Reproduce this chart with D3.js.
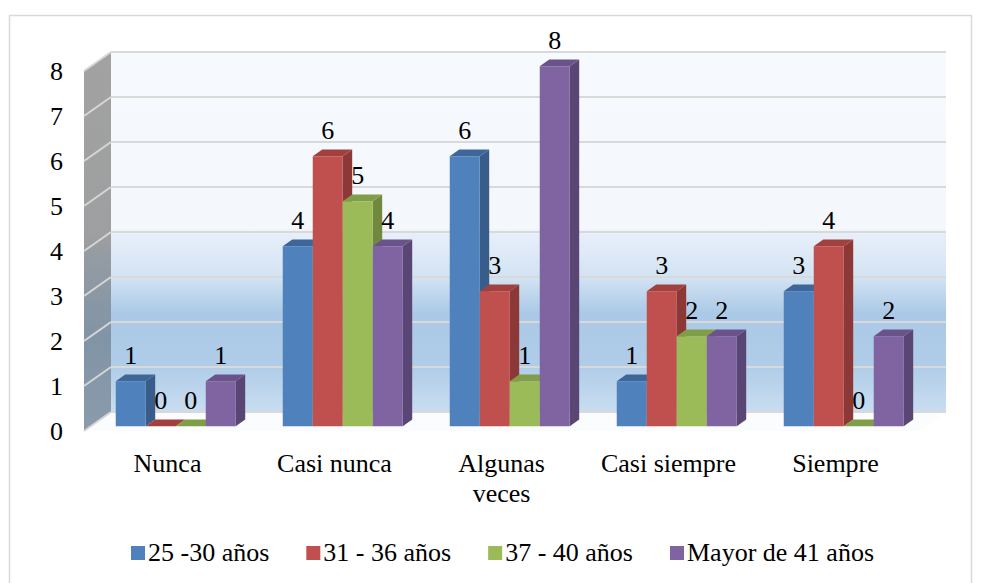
<!DOCTYPE html>
<html>
<head>
<meta charset="utf-8">
<script src="https://cdn.jsdelivr.net/npm/d3@7"></script>
</head>
<body style="margin:0;padding:0;background:#ffffff">
<svg id="chart" width="985" height="583" font-family="Liberation Serif" style="display:block;font-family:Liberation Serif"></svg>
<script>
// Respuestas por categoría y grupo de edad
const categories = ["Nunca", "Casi nunca", "Algunas veces", "Casi siempre", "Siempre"];
const seriesNames = ["25 -30 años", "31 - 36 años", "37 - 40 años", "Mayor de 41 años"];
const edad25a30 = [1, 4, 6, 1, 3];
const edad31a36 = [0, 6, 3, 3, 4];
const edad37a40 = [0, 5, 1, 2, 0];
const mayor41 = [1, 4, 8, 2, 2];
const yTicks = [0, 1, 2, 3, 4, 5, 6, 7, 8];

const seriesValues = [edad25a30, edad31a36, edad37a40, mayor41];

// Colores: cara frontal, lateral y superior de cada serie
const palette = [
  { front: "#4f81bd", side: "#385d8a", top: "#3e6698" },
  { front: "#c0504d", side: "#8c3836", top: "#a2403d" },
  { front: "#9bbb59", side: "#71893f", top: "#809e47" },
  { front: "#8064a2", side: "#5a4675", top: "#6a528a" }
];

const svg = d3.select("#chart");
const styleText = sel => sel
  .attr("font-family", "Liberation Serif").attr("font-size", 26).attr("fill", "#000")
  .style("font-family", "Liberation Serif").style("font-size", "26px");

// Proyección oblicua: plano frontal del piso y desplazamiento de profundidad
const floorY = 431;
const depthDX = 27, depthDY = -19;
const frontLeft = 84, frontRight = 919;

const x = d3.scaleBand().domain(categories).range([frontLeft, frontRight]);
const inner = d3.scaleBand().domain(seriesNames).range([0, 120]);
const h = d3.scaleLinear().domain([0, 8]).range([0, 360]);

// punto (px en plano frontal, valor, fracción de profundidad)
const P = (px, v, f) => [px + f * depthDX, floorY + f * depthDY - h(v)];

const defs = svg.append("defs");
const wallGrad = defs.append("linearGradient").attr("id", "wallGrad")
  .attr("x1", 0).attr("y1", 0).attr("x2", 0).attr("y2", 1);
[[0, "#f6f9fd"], [0.49, "#f4f8fc"], [0.505, "#e7eff9"], [0.625, "#d3e3f3"],
 [0.725, "#abc9e6"], [0.87, "#afcce8"], [1, "#c9ddf0"]]
  .forEach(([o, c]) => wallGrad.append("stop").attr("offset", o).attr("stop-color", c));

const sideGrad = defs.append("linearGradient").attr("id", "sideGrad")
  .attr("x1", 0).attr("y1", 0).attr("x2", 0).attr("y2", 1);
[[0, "#a2a2a2"], [0.48, "#9e9fa0"], [0.55, "#939ba3"], [0.75, "#8194a6"], [1, "#8a9bab"]]
  .forEach(([o, c]) => sideGrad.append("stop").attr("offset", o).attr("stop-color", c));

// Marco exterior
svg.append("rect").attr("x", 9.5).attr("y", 15.5).attr("width", 962).attr("height", 600)
  .attr("fill", "#fff").attr("stroke", "#d9d9d9").attr("stroke-width", 1.5);

const poly = pts => "M" + pts.map(p => p.join(",")).join("L") + "Z";

// Pared del fondo
const back0 = P(frontLeft, 0, 1), back8 = P(frontRight, 8, 1);
svg.append("rect")
  .attr("x", back0[0]).attr("y", back8[1])
  .attr("width", back8[0] - back0[0]).attr("height", back0[1] - back8[1])
  .attr("fill", "url(#wallGrad)");

// Pared lateral
svg.append("path")
  .attr("d", poly([P(frontLeft, 0, 0), P(frontLeft, 8, 0), P(frontLeft, 8, 1), P(frontLeft, 0, 1)]))
  .attr("fill", "url(#sideGrad)");

// Piso
svg.append("path")
  .attr("d", poly([P(frontLeft, 0, 0), P(frontRight, 0, 0), P(frontRight, 0, 1), P(frontLeft, 0, 1)]))
  .attr("fill", "#fbfcfd");

// Líneas de división
const grid = svg.append("g");
yTicks.forEach(v => {
  const a = P(frontLeft, v, 0), b = P(frontLeft, v, 1), c = P(frontRight, v, 1);
  grid.append("path").attr("d", `M${a}L${b}`).attr("stroke", "#d6d6d6")
    .attr("stroke-width", 2).attr("fill", "none");
  grid.append("path").attr("d", `M${b}L${c}`).attr("stroke", "#d9d9d9")
    .attr("stroke-width", 2).attr("fill", "none");
});

// Barras 3D
const f1 = 0.25, f2 = 0.6;
const bars = svg.append("g");
const labels = svg.append("g");
categories.forEach((cat, ci) => {
  seriesNames.forEach((s, si) => {
    const v = seriesValues[si][ci];
    const col = palette[si];
    const x0 = x(cat) + 25 + inner(s);
    const x1 = x0 + inner.bandwidth();
    const g = bars.append("g");
    // lateral
    g.append("path").attr("d", poly([P(x1, 0, f1), P(x1, v, f1), P(x1, v, f2), P(x1, 0, f2)]))
      .attr("fill", col.side);
    // superior
    g.append("path").attr("d", poly([P(x0, v, f1), P(x1, v, f1), P(x1, v, f2), P(x0, v, f2)]))
      .attr("fill", col.top);
    // frontal
    const fl = P(x0, v, f1), fb = P(x1, 0, f1);
    if (v > 0) {
      g.append("rect").attr("x", fl[0]).attr("y", fl[1])
        .attr("width", fb[0] - fl[0]).attr("height", fb[1] - fl[1])
        .attr("fill", col.front);
    }
    labels.append("text")
      .attr("x", (fl[0] + fb[0]) / 2)
      .attr("y", fl[1] - 17)
      .attr("text-anchor", "middle")
      .call(styleText)
      .text(v);
  });
});

// Eje vertical
const yFront = d3.scaleLinear().domain([0, 8]).range([floorY, floorY - h(8)]);
const yAxis = svg.append("g").attr("transform", "translate(63,0)")
  .call(d3.axisLeft(yFront).tickValues(yTicks).tickSize(0).tickPadding(0).tickFormat(d3.format("d")));
yAxis.attr("font-family", "Liberation Serif").attr("font-size", 26);
yAxis.select(".domain").remove();
yAxis.selectAll("text").call(styleText);

// Eje de categorías
const xAxis = svg.append("g").attr("transform", "translate(0,453.5)")
  .call(d3.axisBottom(x).tickSize(0).tickPadding(0));
xAxis.attr("font-family", "Liberation Serif").attr("font-size", 26);
xAxis.select(".domain").remove();
xAxis.selectAll("text").call(styleText)
  .each(function (d) {
    const t = d3.select(this);
    if (this.getComputedTextLength() > x.bandwidth() - 20) {
      const words = d.split(" ");
      t.text(null);
      words.forEach((w, i) => {
        t.append("tspan").attr("x", 0).attr("dy", i === 0 ? "0.71em" : "1.15em").text(w);
      });
    }
  });

// Leyenda
const legend = svg.append("g");
let lx = 131;
seriesNames.forEach((s, si) => {
  legend.append("rect").attr("x", lx).attr("y", 546).attr("width", 14).attr("height", 14)
    .attr("fill", palette[si].front);
  const t = legend.append("text").attr("x", lx + 17).attr("y", 561)
    .call(styleText).text(s);
  lx += 17 + t.node().getComputedTextLength() + 37;
});
</script>
</body>
</html>
